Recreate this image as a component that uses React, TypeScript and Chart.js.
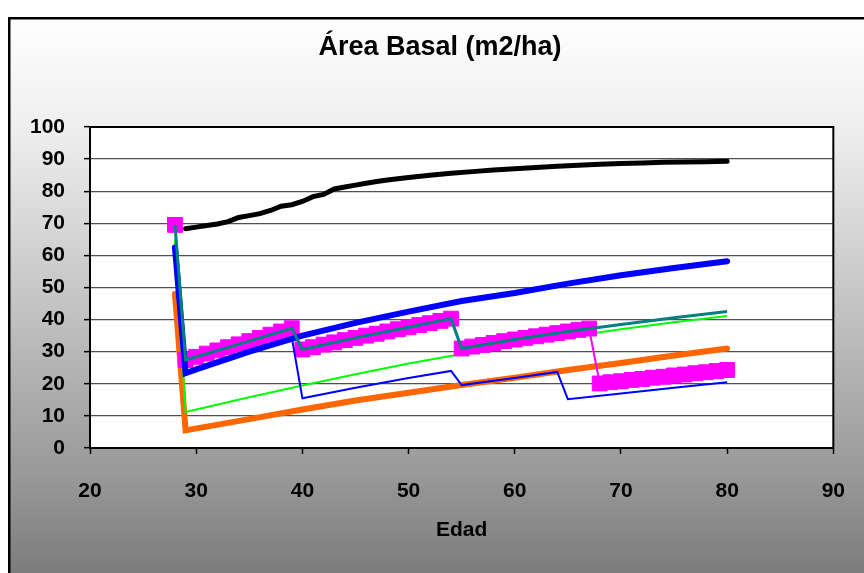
import React, { useEffect, useRef } from "react";
import { Chart, registerables } from "chart.js";

Chart.register(...registerables);

const chartTitle = "Área Basal (m2/ha)";
const xAxisTitle = "Edad";
const xMin = 20;
const xMax = 90;
const yMin = 0;
const yMax = 100;
const tickStep = 10;

// Black series
const blackAges = [29, 30, 31, 32, 33, 34, 35, 36, 37, 38, 39, 40, 41, 42, 43, 44, 45, 46, 47, 48, 50, 52, 54, 56, 58, 60, 62, 64, 66, 68, 70, 72, 74, 76, 78, 80];
const blackValues = [68.3, 68.8, 69.3, 69.8, 70.5, 71.8, 72.4, 73.0, 74.0, 75.3, 75.8, 76.8, 78.3, 79.0, 80.7, 81.3, 81.9, 82.5, 83.0, 83.5, 84.3, 85.0, 85.6, 86.1, 86.6, 87.0, 87.4, 87.8, 88.1, 88.4, 88.6, 88.8, 89.0, 89.1, 89.2, 89.3];

// Thick blue series
const blueThickAges = [28, 29, 30, 35, 40, 45, 50, 55, 60, 65, 70, 75, 80];
const blueThickValues = [62.5, 23.3, 24.5, 30.0, 35.0, 39.0, 42.5, 45.8, 48.3, 51.2, 53.8, 56.1, 58.2];

// Orange series
const orangeAges = [28, 29, 35, 40, 45, 50, 55, 60, 65, 70, 75, 80];
const orangeValues = [48.0, 5.5, 9.0, 12.0, 14.8, 17.2, 19.6, 21.9, 24.3, 26.5, 28.8, 31.0];

// Green series
const greenAges = [28, 29, 35, 40, 45, 50, 55, 60, 65, 70, 75, 80];
const greenValues = [65.0, 11.2, 15.8, 19.5, 23.0, 26.3, 29.3, 32.0, 34.6, 37.0, 39.2, 41.1];

// Thin blue series
const blueThinAges = [28, 29, 30, 35, 39, 40, 45, 50, 54, 55, 60, 64, 65, 70, 75, 80];
const blueThinValues = [62.5, 23.3, 24.5, 30.0, 34.5, 15.5, 18.8, 21.8, 24.0, 19.6, 21.8, 23.7, 15.2, 17.0, 18.8, 20.5];

// Teal series
const tealAges = [28, 29, 35, 39, 40, 45, 50, 54, 55, 60, 65, 70, 75, 80];
const tealValues = [69.5, 27.4, 33.3, 37.3, 30.7, 34.3, 37.6, 40.3, 31.0, 33.8, 36.3, 38.5, 40.6, 42.5];

// Magenta series (markers every year)
const magentaAges = [28, 29, 30, 31, 32, 33, 34, 35, 36, 37, 38, 39, 40, 41, 42, 43, 44, 45, 46, 47, 48, 49, 50, 51, 52, 53, 54, 55, 56, 57, 58, 59, 60, 61, 62, 63, 64, 65, 66, 67, 68, 69, 70, 71, 72, 73, 74, 75, 76, 77, 78, 79, 80];
const magentaValues = [69.5, 27.4, 28.4, 29.4, 30.4, 31.4, 32.3, 33.3, 34.3, 35.3, 36.3, 37.3, 30.7, 31.4, 32.2, 32.9, 33.6, 34.3, 35.0, 35.6, 36.3, 37.0, 37.6, 38.3, 38.9, 39.6, 40.3, 31.0, 31.6, 32.1, 32.7, 33.3, 33.8, 34.3, 34.8, 35.3, 35.8, 36.3, 36.8, 37.2, 20.1, 20.5, 20.8, 21.2, 21.5, 21.9, 22.2, 22.6, 22.9, 23.3, 23.6, 24.0, 24.3];

const pts = (xs: number[], ys: number[]) => xs.map((x, i) => ({ x, y: ys[i] }));

const FONT = "'Liberation Sans', Arial, Helvetica, sans-serif";
const CANVAS_W = 862;
const CANVAS_H = 570;
const PLOT_RIGHT = 832;
const PLOT_LEFT = 82;
const PLOT_TOP = 110;
const PLOT_BOTTOM = 431;
const X_AXIS_H = 80;

const decorPlugin = {
  id: "decor",
  beforeDraw(chart: any) {
    const { ctx, width, height, chartArea: a } = chart;
    ctx.save();
    const g = ctx.createLinearGradient(0, 0, 0, height);
    g.addColorStop(0, "#ffffff");
    g.addColorStop(0.2, "#eeeeee");
    g.addColorStop(0.55, "#bdbdbd");
    g.addColorStop(0.8, "#999999");
    g.addColorStop(1, "#787878");
    ctx.fillStyle = g;
    ctx.fillRect(0, 0, width, height);
    ctx.lineWidth = 2.5;
    ctx.strokeStyle = "#000";
    ctx.strokeRect(1.25, 1.25, width + 10, height + 10);
    ctx.fillStyle = "#ffffff";
    ctx.fillRect(a.left, a.top, a.right - a.left, a.bottom - a.top);
    ctx.restore();
  },
  beforeDatasetsDraw(chart: any) {
    const { ctx, chartArea: a } = chart;
    ctx.save();
    ctx.lineWidth = 2;
    ctx.strokeStyle = "#000";
    ctx.strokeRect(a.left, a.top, a.right - a.left, a.bottom - a.top);
    ctx.restore();
  },
  afterDraw(chart: any) {
    const { ctx, chartArea: a } = chart;
    ctx.save();
    ctx.fillStyle = "#000";
    ctx.textAlign = "center";
    ctx.textBaseline = "middle";
    ctx.font = `bold 27px ${FONT}`;
    ctx.fillText(chartTitle, 432, 31);
    ctx.font = `bold 21px ${FONT}`;
    ctx.fillText(xAxisTitle, (a.left + a.right) / 2, 513);
    ctx.restore();
  },
};

export default function App() {
  const ref = useRef<HTMLCanvasElement | null>(null);

  useEffect(() => {
    if (!ref.current) return;
    const tickFont = { family: FONT, size: 21, weight: "bold" as const };
    const chart = new Chart(ref.current, {
      type: "line",
      data: {
        datasets: [
          {
            label: "teal",
            data: pts(tealAges, tealValues),
            borderColor: "#008080",
            borderWidth: 3,
            pointRadius: 0,
            order: 1,
          },
          {
            label: "blueThick",
            data: pts(blueThickAges, blueThickValues),
            borderColor: "#0000FF",
            borderWidth: 6,
            borderCapStyle: "round",
            pointRadius: 0,
            order: 2,
          },
          {
            label: "blueThin",
            data: pts(blueThinAges, blueThinValues),
            borderColor: "#0000FF",
            borderWidth: 2,
            pointRadius: 0,
            order: 3,
          },
          {
            label: "magenta",
            data: pts(magentaAges, magentaValues),
            borderColor: "#FF00FF",
            borderWidth: 2,
            pointStyle: "rect",
            pointRadius: 10.5,
            pointBackgroundColor: "#FF00FF",
            pointBorderColor: "#FF00FF",
            pointBorderWidth: 1,
            order: 4,
          },
          {
            label: "green",
            data: pts(greenAges, greenValues),
            borderColor: "#00FF00",
            borderWidth: 2,
            pointRadius: 0,
            order: 5,
          },
          {
            label: "orange",
            data: pts(orangeAges, orangeValues),
            borderColor: "#FF6600",
            borderWidth: 6,
            borderCapStyle: "round",
            pointRadius: 0,
            order: 6,
          },
          {
            label: "black",
            data: pts(blackAges, blackValues),
            borderColor: "#000000",
            borderWidth: 5,
            borderCapStyle: "round",
            pointRadius: 0,
            order: 7,
          },
        ],
      },
      options: {
        responsive: false,
        animation: false,
        events: [],
        layout: {
          padding: {
            top: PLOT_TOP,
            left: 0,
            right: CANVAS_W - PLOT_RIGHT,
            bottom: CANVAS_H - PLOT_BOTTOM - X_AXIS_H,
          },
        },
        plugins: {
          legend: { display: false },
          tooltip: { enabled: false },
          title: { display: false },
        },
        scales: {
          x: {
            type: "linear",
            min: xMin,
            max: xMax,
            ticks: { stepSize: tickStep, font: tickFont, color: "#000", padding: 25, maxRotation: 0 },
            grid: { display: true, drawOnChartArea: false, drawTicks: true, tickLength: 6, tickColor: "#000", tickWidth: 1.5 },
            border: { display: true, color: "#000", width: 2 },
            afterFit: (s: any) => {
              s.height = X_AXIS_H;
            },
          },
          y: {
            type: "linear",
            min: yMin,
            max: yMax,
            ticks: { stepSize: tickStep, font: tickFont, color: "#000", padding: 19 },
            grid: { color: "#505050", lineWidth: 1.3, drawTicks: true, tickLength: 6, tickColor: "#000", tickWidth: 1.5 },
            border: { display: true, color: "#000", width: 2 },
            afterFit: (s: any) => {
              s.width = PLOT_LEFT;
            },
          },
        },
      },
      plugins: [decorPlugin],
    });
    return () => chart.destroy();
  }, []);

  return (
    <div style={{ position: "fixed", left: 0, top: 0, width: 864, height: 573, overflow: "hidden", background: "#fff" }}>
      <canvas ref={ref} width={CANVAS_W} height={CANVAS_H} style={{ position: "absolute", left: 8, top: 17 }} />
    </div>
  );
}
